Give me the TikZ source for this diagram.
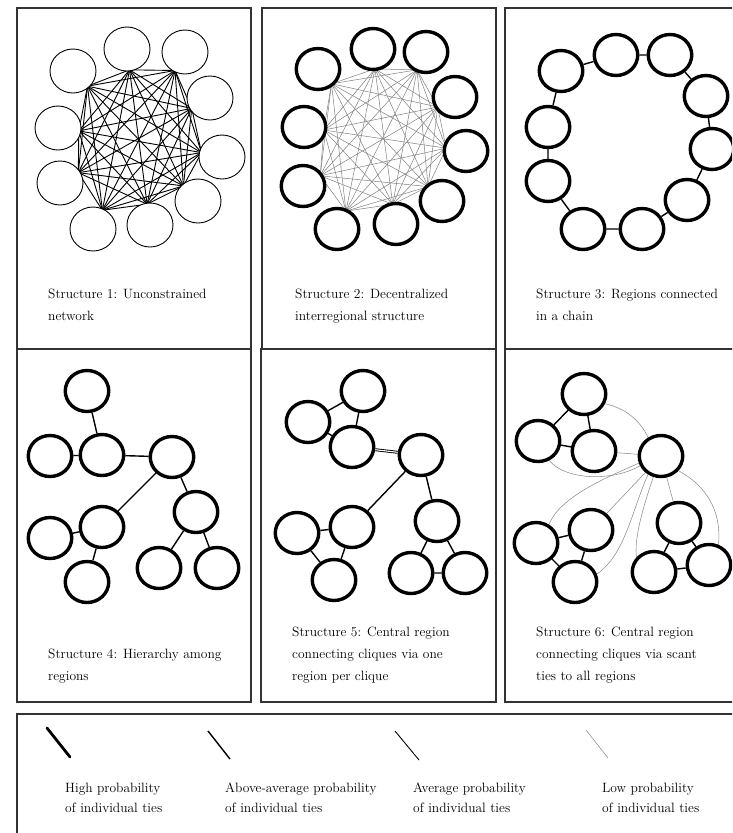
\documentclass[tikz,border=0pt]{standalone}
\usetikzlibrary{shapes.geometric,calc}
\pgfdeclarelayer{bg}
\pgfsetlayers{bg,main}
\begin{document}
\begin{tikzpicture}[x=1pt,y=-1pt,
  panel/.style={draw=black!80, line width=1.3pt},
  reg/.style={ellipse, draw, fill=white, line width=0.9pt, minimum width=46pt, minimum height=44pt, inner sep=0pt},
  region/.style={ellipse, draw, fill=white, line width=3.4pt, minimum width=43.5pt, minimum height=41pt, inner sep=0pt},
  hightie/.style={line width=2.8pt, line cap=round},
  abovetie/.style={line width=1.4pt},
  avgtie/.style={line width=0.9pt},
  lowtie/.style={line width=0.55pt, draw=black!45},
  fulltie/.style={line width=0.9pt, draw=black},
  greytie/.style={line width=0.5pt, draw=black!50},
  doubletie/.style={double, double distance=1.1pt, line width=0.9pt},
  caption/.style={anchor=north west, align=left, inner sep=0pt, font=\fontsize{13.5}{22}\selectfont, text=black},
  legtext/.style={anchor=north west, align=left, inner sep=0pt, font=\fontsize{13.5}{20}\selectfont, text=black}]
\useasboundingbox (0,0) rectangle (732,833);
\clip (0,0) rectangle (732,833);

% ---------- panel frames ----------
\draw[panel] (17,8) rectangle (251,349);
\draw[panel] (262,8) rectangle (496,349);
\draw[panel] (505,8) rectangle (745,349);
\draw[panel] (17,349) rectangle (251,702);
\draw[panel] (261,349) rectangle (496,702);
\draw[panel] (505,349) rectangle (745,702);
\draw[panel] (17,714) rectangle (745,850);

% ---------- Structure 1 ----------
\node[reg] (a1) at (73,71) {};
\node[reg] (a2) at (127,49) {};
\node[reg] (a3) at (185,52) {};
\node[reg] (a4) at (210,98) {};
\node[reg] (a5) at (222,157) {};
\node[reg] (a6) at (198,201) {};
\node[reg] (a7) at (150,225) {};
\node[reg] (a8) at (93,229) {};
\node[reg] (a9) at (60,183) {};
\node[reg] (a10) at (58,128) {};
\coordinate (ac) at (138,139);
\foreach \i in {1,...,10} {\coordinate (ai\i) at ($(a\i)!21pt!(ac)$);}
\begin{pgfonlayer}{bg}
\foreach \i in {1,...,9} {
  \pgfmathtruncatemacro{\k}{\i+1}
  \foreach \j in {\k,...,10} {\draw[fulltie] (ai\i) -- (ai\j);}
}
\end{pgfonlayer}
\node[caption] (t1) at (48,288.5) {Structure 1: Unconstrained\\network};

% ---------- Structure 2 ----------
\node[region] (b1) at (318,69) {};
\node[region] (b2) at (373,49) {};
\node[region] (b3) at (426,52) {};
\node[region] (b4) at (455,97) {};
\node[region] (b5) at (466,151) {};
\node[region] (b6) at (442,201) {};
\node[region] (b7) at (396,224) {};
\node[region] (b8) at (337,229) {};
\node[region] (b9) at (303,186) {};
\node[region] (b10) at (304,127) {};
\coordinate (bc) at (382,139);
\foreach \i in {1,...,10} {\coordinate (bi\i) at ($(b\i)!20pt!(bc)$);}
\begin{pgfonlayer}{bg}
\foreach \i in {1,...,9} {
  \pgfmathtruncatemacro{\k}{\i+1}
  \foreach \j in {\k,...,10} {\draw[greytie] (bi\i) -- (bi\j);}
}
\end{pgfonlayer}
\node[caption] (t2) at (295,288.5) {Structure 2: Decentralized\\interregional structure};

% ---------- Structure 3 ----------
\node[region] (c1) at (561,71) {};
\node[region] (c2) at (616,55) {};
\node[region] (c3) at (670,55) {};
\node[region] (c4) at (706,96) {};
\node[region] (c5) at (712,149) {};
\node[region] (c6) at (687,200) {};
\node[region] (c7) at (642,229) {};
\node[region] (c8) at (583,229) {};
\node[region] (c9) at (548,181) {};
\node[region] (c10) at (548,127) {};
\draw[abovetie] (c1) -- (c2) (c2) -- (c3) (c3) -- (c4) (c4) -- (c5) (c5) -- (c6)
  (c6) -- (c7) (c7) -- (c8) (c8) -- (c9) (c9) -- (c10) (c10) -- (c1);
\node[caption] (t3) at (536,288.5) {Structure 3: Regions connected\\in a chain};

% ---------- Structure 4 ----------
\node[region] (d1) at (87,391) {};
\node[region] (d2) at (50,456) {};
\node[region] (d3) at (102,455) {};
\node[region] (d4) at (172,457) {};
\node[region] (d5) at (196,512) {};
\node[region] (d6) at (102,527) {};
\node[region] (d7) at (50,538) {};
\node[region] (d8) at (87,582) {};
\node[region] (d9) at (159,568) {};
\node[region] (d10) at (217,568) {};
\draw[abovetie] (d1) -- (d3) (d2) -- (d3) (d3) -- (d4) (d4) -- (d6) (d4) -- (d5)
  (d6) -- (d7) (d6) -- (d8) (d5) -- (d9) (d5) -- (d10);
\node[caption] (t4) at (48,648.5) {Structure 4: Hierarchy among\\regions};

% ---------- Structure 5 ----------
\node[region] (e1) at (363,391) {};
\node[region] (e2) at (308,422) {};
\node[region] (e3) at (352,447) {};
\node[region] (e4) at (421,455) {};
\node[region] (e5) at (437,521) {};
\node[region] (e6) at (352,527) {};
\node[region] (e7) at (297,533) {};
\node[region] (e8) at (334,580) {};
\node[region] (e9) at (411,573) {};
\node[region] (e10) at (465,573) {};
\draw[abovetie] (e1) -- (e2) (e1) -- (e3) (e2) -- (e3) (e4) -- (e6) (e4) -- (e5)
  (e6) -- (e7) (e6) -- (e8) (e7) -- (e8) (e5) -- (e9) (e5) -- (e10) (e9) -- (e10);
\draw[doubletie] (e3) -- (e4);
\node[caption] (t5) at (292,627) {Structure 5: Central region\\connecting cliques via one\\region per clique};

% ---------- Structure 6 ----------
\node[region] (f1) at (584,394) {};
\node[region] (f2) at (538,441) {};
\node[region] (f3) at (594,451) {};
\node[region] (f4) at (661,456) {};
\node[region] (f5) at (679,523) {};
\node[region] (f6) at (591,530) {};
\node[region] (f7) at (536,543) {};
\node[region] (f8) at (575,582) {};
\node[region] (f9) at (654,572) {};
\node[region] (f10) at (709,565) {};
\draw[abovetie] (f1) -- (f2) (f1) -- (f3) (f2) -- (f3)
  (f6) -- (f7) (f6) -- (f8) (f7) -- (f8) (f5) -- (f9) (f5) -- (f10) (f9) -- (f10);
\begin{pgfonlayer}{bg}
\draw[lowtie] (f1.-25) .. controls (625,408) and (640,420) .. (f4.125);
\draw[lowtie] (f3) -- (f4);
\draw[lowtie] (f2.-60) .. controls (565,480) and (612,482) .. (f4.205);
\draw[lowtie] (f7.55) .. controls (560,497) and (605,478) .. (f4.198);
\draw[lowtie] (f6) -- (f4);
\draw[lowtie] (f4.235) .. controls (632,510) and (625,555) .. (f8.20);
\draw[lowtie] (f4.250) .. controls (642,510) and (634,540) .. (f9.140);
\draw[lowtie] (f4) -- (f5);
\draw[lowtie] (f4.-40) .. controls (705,485) and (722,510) .. (f10.65);
\end{pgfonlayer}
\node[caption] (t6) at (536,627) {Structure 6: Central region\\connecting cliques via scant\\ties to all regions};

% ---------- legend ----------
\coordinate (h1) at (47,728);  \coordinate (h2) at (70,757);
\coordinate (v1) at (208,731); \coordinate (v2) at (230,759);
\coordinate (g1) at (395,731); \coordinate (g2) at (419,760);
\coordinate (w1) at (586,730); \coordinate (w2) at (608,758);
\draw[hightie] (h1) -- (h2);
\draw[abovetie] (v1) -- (v2);
\draw[avgtie] (g1) -- (g2);
\draw[lowtie] (w1) -- (w2);
\node[legtext] (lh) at (65,782.5) {High probability\\of individual ties};
\node[legtext] (lv) at (225,782.5) {Above-average probability\\of individual ties};
\node[legtext] (lg) at (413,782.5) {Average probability\\of individual ties};
\node[legtext] (lw) at (602,782.5) {Low probability\\of individual ties};
\end{tikzpicture}
\end{document}
